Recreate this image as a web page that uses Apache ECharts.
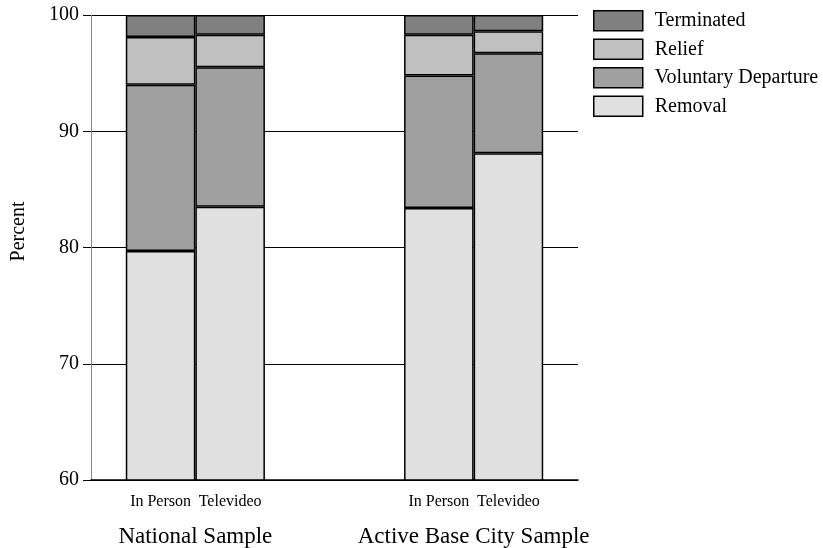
<!DOCTYPE html>
<html><head><meta charset="utf-8">
<script src="https://cdn.jsdelivr.net/npm/echarts@6/dist/echarts.min.js"></script>
<style>html,body{margin:0;padding:0;background:#fff}#c{width:823px;height:548px}</style>
</head><body><div id="c"></div>
<script>
const groups = ['National Sample', 'Active Base City Sample'];
const modes = ['In Person', 'Televideo'];
// bar order: National-In Person, National-Televideo, Active-In Person, Active-Televideo
const removal    = [79.7, 83.5, 83.4, 88.1];
const voluntary  = [14.3, 12.0, 11.4, 8.6];
const relief     = [4.1, 2.8, 3.5, 1.9];
const terminated = [1.9, 1.7, 1.7, 1.4];
const yTicks = [60, 70, 80, 90, 100];

const font = 'Liberation Serif';
// slot on the category scale for each bar: groups separated by two empty slots
function slotOf(i) { const g = Math.floor(i / modes.length), m = i % modes.length; return 1 + g * (modes.length + 2) + m; }
const nPos = groups.length * (modes.length + 2);      // positions 0 .. nPos-1
const slotLabels = new Array(nPos).fill('');
removal.forEach((_, i) => { slotLabels[slotOf(i)] = modes[i % modes.length]; });
const groupAt = {};
groups.forEach((g, gi) => { groupAt[(slotOf(gi * modes.length) + slotOf(gi * modes.length + modes.length - 1)) / 2] = g; });

function toSlots(arr) {
  const out = slotLabels.map(() => '-');
  arr.forEach((v, i) => { out[slotOf(i)] = v; });
  return out;
}
function mk(name, arr, color) {
  return {
    name, type: 'bar', stack: 'total', xAxisIndex: 0, barWidth: '100%',
    itemStyle: { color, borderColor: '#000', borderWidth: 1.5 },
    data: toSlots(arr)
  };
}

const chart = echarts.init(document.getElementById('c'));
chart.setOption({
  animation: false,
  backgroundColor: '#fff',
  textStyle: { fontFamily: font, color: '#000' },
  grid: { left: 91, top: 15, width: 487, height: 469 },
  legend: {
    left: 593, top: 10, padding: 0, orient: 'vertical', itemWidth: 49, itemHeight: 20, itemGap: 7,
    icon: 'rect',
    data: ['Terminated', 'Relief', 'Voluntary Departure', 'Removal'],
    itemStyle: { borderColor: '#000', borderWidth: 1.5 },
    textStyle: { fontFamily: font, fontSize: 20, color: '#000', lineHeight: 20, padding: [0, 0, 0, 7] }
  },
  xAxis: [
    {
      type: 'category', data: slotLabels, boundaryGap: false, position: 'bottom',
      axisLine: { show: true, onZero: false, lineStyle: { color: '#000', width: 1.5 } },
      axisTick: { show: false }, splitLine: { show: false },
      axisLabel: { interval: 0, margin: 14, fontFamily: font, fontSize: 16, color: '#000' }
    },
    {
      type: 'value', min: 0, max: nPos - 1, interval: 0.5, position: 'bottom',
      axisLine: { show: false }, axisTick: { show: false }, splitLine: { show: false },
      axisLabel: { margin: 45, fontFamily: font, fontSize: 23, color: '#000', formatter: v => groupAt[v] || '' }
    }
  ],
  yAxis: {
    type: 'value', min: yTicks[0], max: yTicks[yTicks.length - 1], interval: 10,
    name: 'Percent', nameLocation: 'middle', nameGap: 62, nameRotate: 90,
    nameTextStyle: { fontFamily: font, fontSize: 20, color: '#000', padding: [0, 0, 0, 32] },
    axisLine: { show: true, lineStyle: { color: '#888', width: 1 } },
    axisTick: { show: true, length: 8, lineStyle: { color: '#000', width: 1 } },
    splitLine: { show: true, lineStyle: { color: '#000', width: 1 } },
    axisLabel: { margin: 12, fontFamily: font, fontSize: 20, color: '#000' }
  },
  series: [
    mk('Removal', removal, '#e0e0e0'),
    mk('Voluntary Departure', voluntary, '#a0a0a0'),
    mk('Relief', relief, '#c0c0c0'),
    mk('Terminated', terminated, '#808080')
  ]
});
</script></body></html>
